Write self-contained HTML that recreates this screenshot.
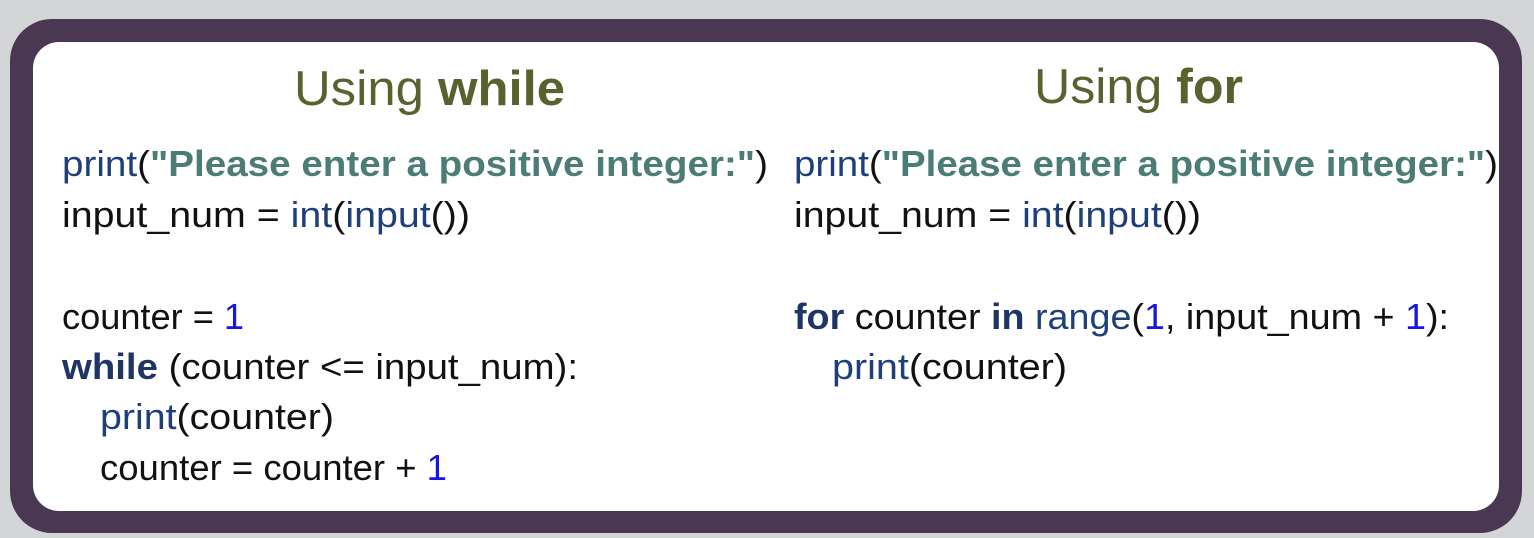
<!DOCTYPE html>
<html><head><meta charset="utf-8"><style>
html,body{margin:0;padding:0;background:#d4d5d7;width:1534px;height:538px;overflow:hidden}
svg{display:block}
text{font-family:"Liberation Sans",sans-serif;font-size:36px;fill:#111}
.f{fill:#1e3f78}.s{fill:#4b7d76;font-weight:bold}.n{fill:#1515e6}.k{fill:#1e3565;font-weight:bold}
.t{font-size:49px;fill:#59622f}
</style></head><body>
<svg width="1534" height="538" viewBox="0 0 1534 538">
<rect x="10" y="19" width="1512" height="514" rx="42" fill="#4a3853"/>
<rect x="33" y="42" width="1466" height="469" rx="26" fill="#fff"/>
<text class="t" x="294" y="105" textLength="271" lengthAdjust="spacingAndGlyphs">Using <tspan font-weight="bold">while</tspan></text>
<text class="t" x="1034" y="103" textLength="209" lengthAdjust="spacingAndGlyphs">Using <tspan font-weight="bold">for</tspan></text>

<text x="62" y="176" textLength="706" lengthAdjust="spacingAndGlyphs"><tspan class="f">print</tspan>(<tspan class="s">"Please enter a positive integer:"</tspan>)</text>
<text x="62" y="227" textLength="408" lengthAdjust="spacingAndGlyphs">input_num = <tspan class="f">int</tspan>(<tspan class="f">input</tspan>())</text>
<text x="62" y="329" textLength="182" lengthAdjust="spacingAndGlyphs">counter = <tspan class="n">1</tspan></text>
<text x="62" y="379" textLength="516" lengthAdjust="spacingAndGlyphs"><tspan class="k">while</tspan> (counter &lt;= input_num):</text>
<text x="100" y="429" textLength="234" lengthAdjust="spacingAndGlyphs"><tspan class="f">print</tspan>(counter)</text>
<text x="100" y="480" textLength="347" lengthAdjust="spacingAndGlyphs">counter = counter + <tspan class="n">1</tspan></text>

<text x="794" y="176" textLength="704" lengthAdjust="spacingAndGlyphs"><tspan class="f">print</tspan>(<tspan class="s">"Please enter a positive integer:"</tspan>)</text>
<text x="794" y="227" textLength="407" lengthAdjust="spacingAndGlyphs">input_num = <tspan class="f">int</tspan>(<tspan class="f">input</tspan>())</text>
<text x="794" y="329" textLength="655" lengthAdjust="spacingAndGlyphs"><tspan class="k">for</tspan> counter <tspan class="k">in</tspan> <tspan class="f">range</tspan>(<tspan class="n">1</tspan>, input_num + <tspan class="n">1</tspan>):</text>
<text x="832" y="379" textLength="235" lengthAdjust="spacingAndGlyphs"><tspan class="f">print</tspan>(counter)</text>
</svg>
</body></html>
